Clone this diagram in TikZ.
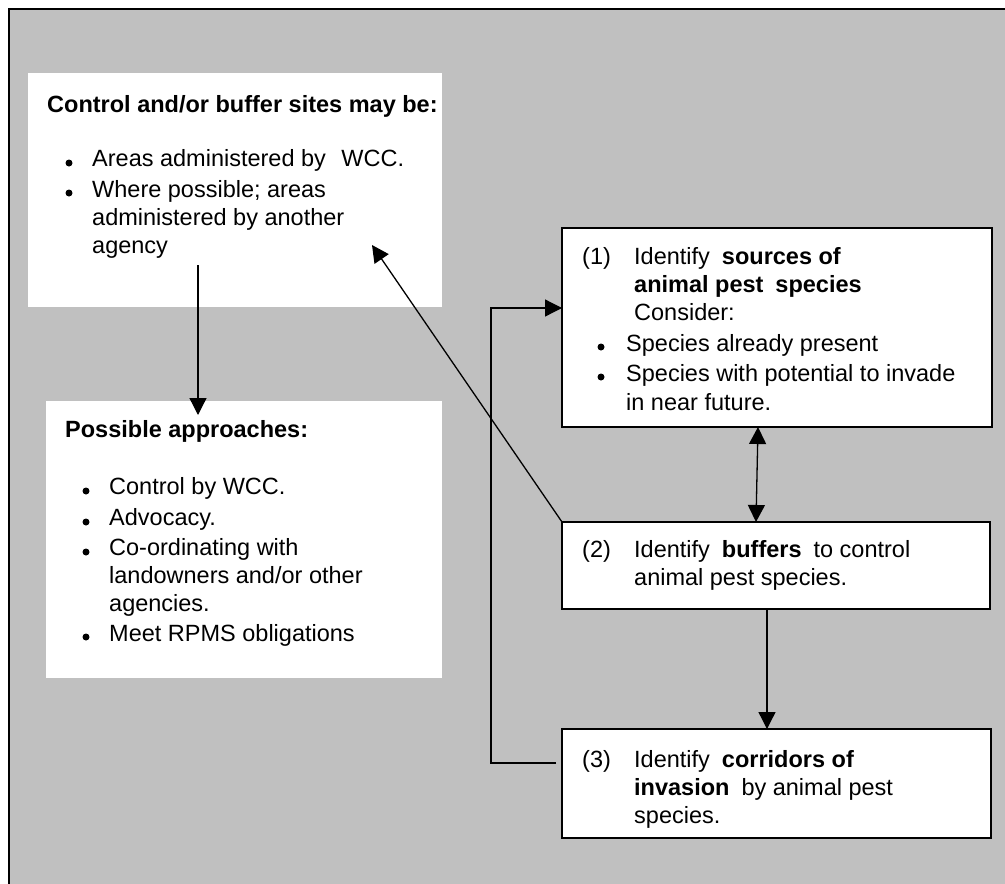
\documentclass[tikz,border=0pt]{standalone}
\usepackage{fontspec}
\setmainfont{Liberation Sans}
\usetikzlibrary{arrows.meta}
\definecolor{bggray}{HTML}{C0C0C0}
\begin{document}
\begin{tikzpicture}[x=1pt,y=-1pt,
  txt/.style={anchor=base west, inner sep=0pt, font=\fontsize{23.5}{28}\selectfont},
  wbox/.style={anchor=north west, fill=white, inner sep=0pt, outer sep=0pt},
  stepbox/.style={anchor=north west, fill=white, draw=black, line width=1.5pt, inner sep=0pt, outer sep=0pt},
  conn/.style={draw=black, line width=1.3pt},
  tip/.style={-{Triangle[length=17pt,width=17pt]}},
  dtip/.style={{Triangle[length=17pt,width=17pt]}-{Triangle[length=17pt,width=17pt]}},
  bul/.style={fill=black}
]
\useasboundingbox (0,0) rectangle (1005,884);
% background and frame
\fill[bggray] (9,9) rectangle (1010,890);
\draw[line width=2.5pt] (9,900) -- (9,9) -- (1010,9);

% boxes
\node[wbox, minimum width=414pt, minimum height=234pt] (ba) at (28,73) {};
\node[wbox, minimum width=396pt, minimum height=277pt] (bb) at (46,401) {};
\node[stepbox, minimum width=430pt, minimum height=199pt] (b1) at (562,228) {};
\node[stepbox, minimum width=428pt, minimum height=87pt] (b2) at (562,522) {};
\node[stepbox, minimum width=429pt, minimum height=109pt] (b3) at (562,729) {};

% Box A text
\node[txt] (ta0) at (47,112) {\textbf{Control and/or buffer sites may be:}};
\fill[bul] (69,163) circle (3.5);
\node[txt] (ta1) at (92,166) {Areas administered by\hspace{9pt} WCC.};
\fill[bul] (69,193) circle (3.5);
\node[txt] (ta2) at (92,197) {Where possible; areas};
\node[txt] (ta3) at (92,225) {administered by another};
\node[txt] (ta4) at (92,253) {agency};

% Box B text
\node[txt] (tb0) at (65,437) {\textbf{Possible approaches:}};
\fill[bul] (86,491) circle (3.5);
\node[txt] (tb1) at (109,494) {Control by WCC.};
\fill[bul] (86,522) circle (3.5);
\node[txt] (tb2) at (109,525) {Advocacy.};
\fill[bul] (86,552) circle (3.5);
\node[txt] (tb3) at (109,555) {Co-ordinating with};
\node[txt] (tb4) at (109,583) {landowners and/or other};
\node[txt] (tb5) at (109,611) {agencies.};
\fill[bul] (86,637) circle (3.5);
\node[txt] (tb6) at (109,641) {Meet RPMS obligations};

% Box 1 text
\node[txt] (t10) at (582,264) {(1)};
\node[txt] (t11) at (634,264) {Identify\hspace{12pt}\textbf{sources of}};
\node[txt] (t12) at (634,292) {\textbf{animal pest\hspace{12pt}species}};
\node[txt] (t13) at (634,320) {Consider:};
\fill[bul] (601,347) circle (3.5);
\node[txt] (t14) at (626,351) {Species already present};
\fill[bul] (601,377) circle (3.5);
\node[txt] (t15) at (626,381) {Species with potential to invade};
\node[txt] (t16) at (626,410) {in near future.};

% Box 2 text
\node[txt] (t20) at (582,557) {(2)};
\node[txt] (t21) at (634,557) {Identify\hspace{12pt}\textbf{buffers}\hspace{12pt}to control};
\node[txt] (t22) at (634,585) {animal pest species.};

% Box 3 text
\node[txt] (t30) at (582,767) {(3)};
\node[txt] (t31) at (634,767) {Identify\hspace{12pt}\textbf{corridors of}};
\node[txt] (t32) at (634,795) {\textbf{invasion}\hspace{12pt}by animal pest};
\node[txt] (t33) at (634,823) {species.};

% connector coordinates
\coordinate (ca) at (198,265);
\coordinate (cb) at (198,415);
\coordinate (cc) at (372,245);
\coordinate (c1s) at (758,427);
\coordinate (c2n) at (756,522);
\coordinate (c2s) at (767,609);
\coordinate (c3n) at (767,729);
\coordinate (c3w) at (556,763);
\coordinate (cl1) at (491,763);
\coordinate (cl2) at (491,308);
\coordinate (c1w) at (562,308);

% connectors
\draw[conn, tip] (ca) -- (cb);
\draw[conn, tip] (b2.north west) -- (cc);
\draw[conn, dtip] (c1s) -- (c2n);
\draw[conn, tip] (c2s) -- (c3n);
\draw[conn, tip] (c3w) -- (cl1) -- (cl2) -- (c1w);
\end{tikzpicture}
\end{document}
